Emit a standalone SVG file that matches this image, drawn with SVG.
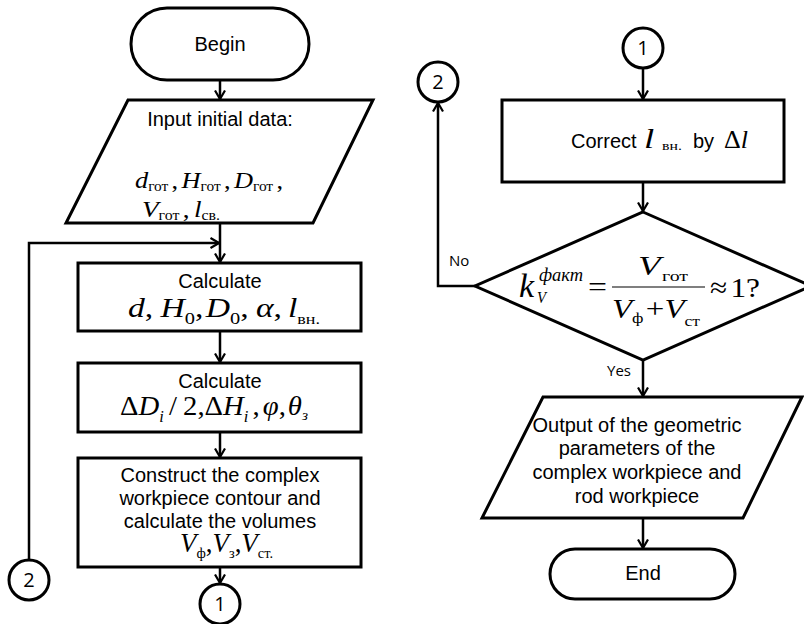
<svg xmlns="http://www.w3.org/2000/svg" width="804" height="624" viewBox="0 0 804 624">
  <style>
    .shape { fill: #fff; stroke: #000; stroke-width: 3; }
    .conn { fill: none; stroke: #000; stroke-width: 2.5; }
    .t { font-family: "Liberation Sans", Arial, sans-serif; font-size: 20px; text-anchor: middle; fill: #000; }
    .t.s { text-anchor: start; }
    .m { font-family: "Liberation Serif", "Times New Roman", serif; fill: #000; }
    .i { font-style: italic; }
    .lbl { font-family: "Open Sans", "Noto Sans", sans-serif; font-size: 15px; fill: #000; }
    .num { font-family: "Open Sans", "Noto Sans", sans-serif; font-size: 20px; text-anchor: middle; fill: #000; }
  </style>
  <defs>
    <marker id="arrow" viewBox="0 0 10 12" refX="9.5" refY="6" markerWidth="10" markerHeight="12" markerUnits="userSpaceOnUse" orient="auto">
      <path d="M1,1 L9.5,6 L1,11" fill="none" stroke="#000" stroke-width="2.2"/>
    </marker>
  </defs>

  <!-- connectors -->
  <g id="connectors" class="conn" marker-end="url(#arrow)">
    <line x1="220" y1="80" x2="220" y2="99"/>
    <line x1="220" y1="223" x2="220" y2="262"/>
    <polyline points="29,560 29,243 219,243"/>
    <line x1="220" y1="331" x2="220" y2="362"/>
    <line x1="220" y1="432" x2="220" y2="457"/>
    <line x1="220" y1="567" x2="220" y2="583"/>
    <line x1="643" y1="69" x2="643" y2="99"/>
    <line x1="643" y1="182" x2="643" y2="211"/>
    <polyline points="475,286 438,286 438,103"/>
    <line x1="643" y1="360" x2="643" y2="396"/>
    <line x1="643" y1="518" x2="643" y2="548"/>
  </g>

  <!-- left column -->
  <g id="begin">
    <rect class="shape" x="131" y="8" width="178" height="72" rx="36"/>
    <text class="t" x="220" y="51">Begin</text>
  </g>

  <g id="input">
    <polygon class="shape" points="128,100 373,100 313,223 66,223"/>
    <text class="t" x="220" y="126">Input initial data:</text>
    <text class="m" font-size="24" x="135" y="188" textLength="148" lengthAdjust="spacingAndGlyphs"><tspan class="i">d</tspan><tspan font-size="14" dy="3">гот</tspan><tspan dy="-3" dx="3">,</tspan><tspan class="i" dx="3">H</tspan><tspan font-size="14" dy="3">гот</tspan><tspan dy="-3" dx="3">,</tspan><tspan class="i" dx="3">D</tspan><tspan font-size="14" dy="3">гот</tspan><tspan dy="-3" dx="3">,</tspan></text>
    <text class="m" font-size="24" x="142" y="217" textLength="78" lengthAdjust="spacingAndGlyphs"><tspan class="i">V</tspan><tspan font-size="14" dy="3">гот</tspan><tspan dy="-3" dx="3">,</tspan><tspan class="i" dx="4">l</tspan><tspan font-size="14" dy="3">св.</tspan></text>
  </g>

  <g id="calc1">
    <rect class="shape" x="78" y="263" width="283" height="68"/>
    <text class="t" x="220" y="288">Calculate</text>
    <text class="m" font-size="28" x="128" y="317" textLength="192" lengthAdjust="spacingAndGlyphs"><tspan class="i">d</tspan><tspan>,</tspan><tspan class="i" dx="6">H</tspan><tspan font-size="17" dy="7">0</tspan><tspan dy="-7">,</tspan><tspan class="i" dx="2">D</tspan><tspan font-size="17" dy="7">0</tspan><tspan dy="-7">,</tspan><tspan class="i" dx="6">α</tspan><tspan>,</tspan><tspan class="i" dx="5">l</tspan><tspan font-size="15" dy="7">вн.</tspan></text>
  </g>

  <g id="calc2">
    <rect class="shape" x="78" y="363" width="283" height="69"/>
    <text class="t" x="220" y="388">Calculate</text>
    <text class="m" font-size="28" x="120" y="415" textLength="188" lengthAdjust="spacingAndGlyphs"><tspan>Δ</tspan><tspan class="i">D</tspan><tspan class="i" font-size="16" dy="7">i</tspan><tspan dy="-7" dx="5">/</tspan><tspan dx="6">2</tspan><tspan>,</tspan><tspan>Δ</tspan><tspan class="i">H</tspan><tspan class="i" font-size="16" dy="7">i</tspan><tspan dy="-7" dx="4">,</tspan><tspan class="i" dx="3">φ</tspan><tspan>,</tspan><tspan class="i" dx="2">θ</tspan><tspan class="i" font-size="15" dy="5">з</tspan></text>
  </g>

  <g id="construct">
    <rect class="shape" x="78" y="458" width="283" height="109"/>
    <text class="t" x="220" y="482">Construct the complex</text>
    <text class="t" x="220" y="505">workpiece contour and</text>
    <text class="t" x="220" y="528">calculate the volumes</text>
    <text class="m" font-size="28" x="180" y="552" textLength="93" lengthAdjust="spacingAndGlyphs"><tspan class="i">V</tspan><tspan font-size="15" dy="6">ф</tspan><tspan dy="-6">,</tspan><tspan class="i">V</tspan><tspan font-size="15" dy="6">з</tspan><tspan dy="-6">,</tspan><tspan class="i">V</tspan><tspan font-size="15" dy="6">ст.</tspan></text>
  </g>

  <g id="conn1-out">
    <circle class="shape" cx="220" cy="604" r="20" stroke-width="2.5"/>
    <text class="num" x="220" y="611">1</text>
  </g>

  <g id="conn2-in">
    <circle class="shape" cx="29" cy="580" r="20" stroke-width="2.5"/>
    <text class="num" x="29" y="587">2</text>
  </g>

  <!-- right column -->
  <g id="conn1-in">
    <circle class="shape" cx="643" cy="48" r="20" stroke-width="2.5"/>
    <text class="num" x="643" y="55">1</text>
  </g>

  <g id="conn2-out">
    <circle class="shape" cx="438" cy="82" r="20" stroke-width="2.5"/>
    <text class="num" x="438" y="89">2</text>
  </g>

  <g id="correct">
    <rect class="shape" x="502" y="100" width="282" height="82"/>
    <text class="t s" x="571" y="148">Correct</text>
    <text class="m" font-size="28" x="644" y="148" textLength="38" lengthAdjust="spacingAndGlyphs"><tspan class="i">l</tspan><tspan font-size="12" dy="2" dx="6">вн.</tspan></text>
    <text class="t s" x="693" y="148">by</text>
    <text class="m" font-size="25" x="724" y="148" textLength="24" lengthAdjust="spacingAndGlyphs"><tspan>Δ</tspan><tspan class="i">l</tspan></text>
  </g>

  <g id="check">
    <polygon class="shape" points="643,212 811,286 643,360 475,286"/>
    <text class="m i" font-size="34" x="519" y="297">k</text>
    <text class="m i" font-size="18" x="539" y="281" textLength="44" lengthAdjust="spacingAndGlyphs">факт</text>
    <text class="m i" font-size="16" x="537" y="303" textLength="9" lengthAdjust="spacingAndGlyphs">V</text>
    <text class="m" font-size="28" x="588" y="296" textLength="19" lengthAdjust="spacingAndGlyphs">=</text>
    <text class="m" font-size="28" x="638" y="275" textLength="50" lengthAdjust="spacingAndGlyphs"><tspan class="i">V</tspan><tspan font-size="15" dy="6" dx="1">гот</tspan></text>
    <line x1="612" y1="287" x2="705" y2="287" stroke="#000" stroke-width="1.2"/>
    <text class="m" font-size="28" x="612" y="318" textLength="88" lengthAdjust="spacingAndGlyphs"><tspan class="i">V</tspan><tspan font-size="15" dy="5">ф</tspan><tspan dy="-5" dx="2">+</tspan><tspan class="i">V</tspan><tspan font-size="15" dy="8">ст</tspan></text>
    <text class="m" font-size="28" x="710" y="297" textLength="50" lengthAdjust="spacingAndGlyphs"><tspan>≈</tspan><tspan dx="3">1?</tspan></text>
  </g>

  <text class="lbl" x="449" y="266">No</text>
  <text class="lbl" x="607" y="376">Yes</text>

  <g id="output">
    <polygon class="shape" points="543,397 802,397 743,518 482,518"/>
    <text class="t" x="637" y="432">Output of the geometric</text>
    <text class="t" x="637" y="455">parameters of the</text>
    <text class="t" x="637" y="479">complex workpiece and</text>
    <text class="t" x="637" y="503">rod workpiece</text>
  </g>

  <g id="end">
    <rect class="shape" x="550" y="549" width="185" height="50" rx="25"/>
    <text class="t" x="643" y="580">End</text>
  </g>
</svg>
